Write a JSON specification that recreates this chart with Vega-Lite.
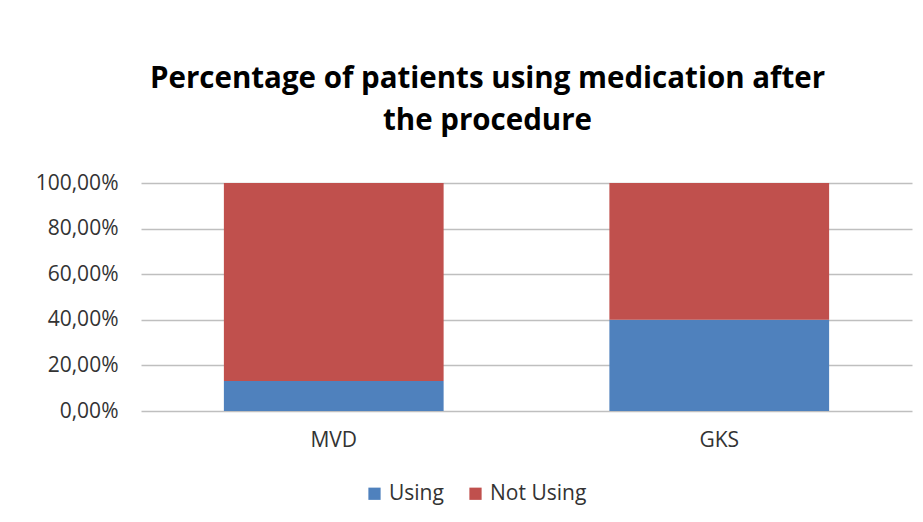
{
  "$schema": "https://vega.github.io/schema/vega-lite/v6.json",
  "autosize": {"type": "none"},
  "width": 771,
  "height": 228,
  "padding": {"left": 141, "top": 183, "right": 11, "bottom": 111},
  "background": "white",
  "title": {
    "text": ["Percentage of patients using medication after", "the procedure"],
    "font": "Open Sans",
    "fontSize": 29.5,
    "fontWeight": "bold",
    "color": "#000000",
    "lineHeight": 42,
    "anchor": "middle",
    "frame": "group",
    "dx": -39,
    "offset": 36
  },
  "data": {
    "values": [
      {"procedure": "MVD", "status": "Using", "k": 1, "share": 0.132},
      {"procedure": "MVD", "status": "Not Using", "k": 2, "share": 0.868},
      {"procedure": "GKS", "status": "Using", "k": 1, "share": 0.40},
      {"procedure": "GKS", "status": "Not Using", "k": 2, "share": 0.60}
    ]
  },
  "mark": {"type": "bar"},
  "encoding": {
    "x": {
      "field": "procedure",
      "type": "nominal",
      "sort": ["MVD", "GKS"],
      "scale": {"paddingInner": 0.43, "paddingOuter": 0.215},
      "axis": {
        "title": null,
        "labelAngle": 0,
        "domain": false,
        "ticks": false,
        "labelPadding": 18,
        "labelFont": "Open Sans",
        "labelFontSize": 21,
        "labelColor": "#333333"
      }
    },
    "y": {
      "field": "share",
      "type": "quantitative",
      "stack": "zero",
      "scale": {"domain": [0, 1], "nice": false},
      "axis": {
        "title": null,
        "values": [0, 0.2, 0.4, 0.6, 0.8, 1],
        "labelExpr": "replace(format(datum.value, '.2%'), '.', ',')",
        "domain": false,
        "ticks": false,
        "labelPadding": 23,
        "labelFont": "Open Sans",
        "labelFontSize": 21,
        "labelColor": "#333333",
        "gridColor": "#bfbfbf",
        "gridWidth": 1.3
      }
    },
    "color": {
      "field": "status",
      "type": "nominal",
      "sort": ["Using", "Not Using"],
      "scale": {"domain": ["Using", "Not Using"], "range": ["#4f81bd", "#c0504d"]},
      "legend": {
        "title": null,
        "orient": "none",
        "direction": "horizontal",
        "legendX": 223,
        "legendY": 300,
        "symbolType": "square",
        "symbolSize": 150,
        "symbolStrokeWidth": 0,
        "labelFont": "Open Sans",
        "labelFontSize": 21,
        "labelColor": "#333333",
        "labelOffset": 4,
        "columnPadding": 21
      }
    },
    "order": {"field": "k", "type": "quantitative"}
  },
  "config": {
    "view": {"stroke": null},
    "axis": {"gridOpacity": 1}
  }
}
